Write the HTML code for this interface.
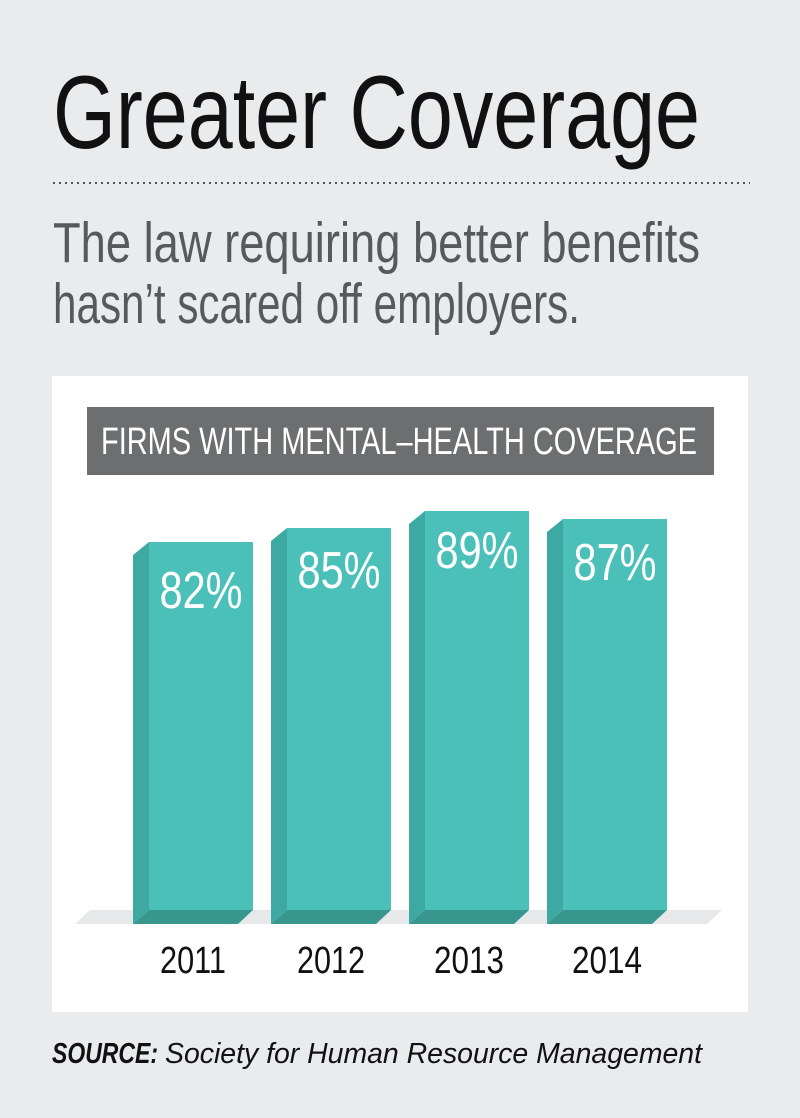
<!DOCTYPE html>
<html><head><meta charset="utf-8"><style>
html,body{margin:0;padding:0;background:#e9ebec;}
svg{display:block;}
</style></head><body>
<svg width="800" height="1118" viewBox="0 0 800 1118" xmlns="http://www.w3.org/2000/svg" font-family="Liberation Sans, sans-serif">
<rect width="800" height="1118" fill="#e9ebec"/>
<text x="53" y="148" font-size="104" fill="#111" textLength="647" lengthAdjust="spacingAndGlyphs">Greater Coverage</text>
<line x1="53" y1="183" x2="750" y2="183" stroke="#555" stroke-width="2" stroke-dasharray="2,4"/>
<text x="53" y="262" font-size="57" fill="#58595b" textLength="647" lengthAdjust="spacingAndGlyphs">The law requiring better benefits</text>
<text x="53" y="323" font-size="57" fill="#58595b" textLength="527" lengthAdjust="spacingAndGlyphs">hasn’t scared off employers.</text>
<rect x="52" y="376" width="696" height="636" fill="#fff"/>
<rect x="87" y="407" width="627" height="68" fill="#6d6e70"/>
<text x="101" y="454" font-size="38" fill="#fff" textLength="596" lengthAdjust="spacingAndGlyphs">FIRMS WITH MENTAL–HEALTH COVERAGE</text>
<polygon points="90,910 722,910 707,924 75,924" fill="#e7e8e9"/>
<g id="bars">
<!-- bar: x0, top -->
<g>
<polygon points="133,555 149,542 149,910 133,924" fill="#3ea9a2"/>
<rect x="149" y="542" width="104" height="368" fill="#4bc0b9"/>
<polygon points="133,924 149,910 253,910 238,924" fill="#37978f"/>
<text x="201" y="608" font-size="52" fill="#fff" text-anchor="middle" textLength="83" lengthAdjust="spacingAndGlyphs">82%</text>
</g>
<g>
<polygon points="271,541 287,528 287,910 271,924" fill="#3ea9a2"/>
<rect x="287" y="528" width="104" height="382" fill="#4bc0b9"/>
<polygon points="271,924 287,910 391,910 376,924" fill="#37978f"/>
<text x="339" y="588" font-size="52" fill="#fff" text-anchor="middle" textLength="83" lengthAdjust="spacingAndGlyphs">85%</text>
</g>
<g>
<polygon points="409,524 425,511 425,910 409,924" fill="#3ea9a2"/>
<rect x="425" y="511" width="104" height="399" fill="#4bc0b9"/>
<polygon points="409,924 425,910 529,910 514,924" fill="#37978f"/>
<text x="477" y="568" font-size="52" fill="#fff" text-anchor="middle" textLength="83" lengthAdjust="spacingAndGlyphs">89%</text>
</g>
<g>
<polygon points="547,532 563,519 563,910 547,924" fill="#3ea9a2"/>
<rect x="563" y="519" width="104" height="391" fill="#4bc0b9"/>
<polygon points="547,924 563,910 667,910 652,924" fill="#37978f"/>
<text x="615" y="580" font-size="52" fill="#fff" text-anchor="middle" textLength="83" lengthAdjust="spacingAndGlyphs">87%</text>
</g>
</g>
<g font-size="38" fill="#111" text-anchor="middle">
<text x="193" y="973" textLength="66" lengthAdjust="spacingAndGlyphs">2011</text>
<text x="331" y="973" textLength="68" lengthAdjust="spacingAndGlyphs">2012</text>
<text x="469" y="973" textLength="70" lengthAdjust="spacingAndGlyphs">2013</text>
<text x="607" y="973" textLength="70" lengthAdjust="spacingAndGlyphs">2014</text>
</g>
<text x="52" y="1063" font-size="29" fill="#111" font-style="italic" font-weight="bold" textLength="106" lengthAdjust="spacingAndGlyphs">SOURCE:</text>
<text x="165" y="1063" font-size="29" fill="#111" font-style="italic" textLength="537" lengthAdjust="spacingAndGlyphs">Society for Human Resource Management</text>
</svg>
</body></html>
